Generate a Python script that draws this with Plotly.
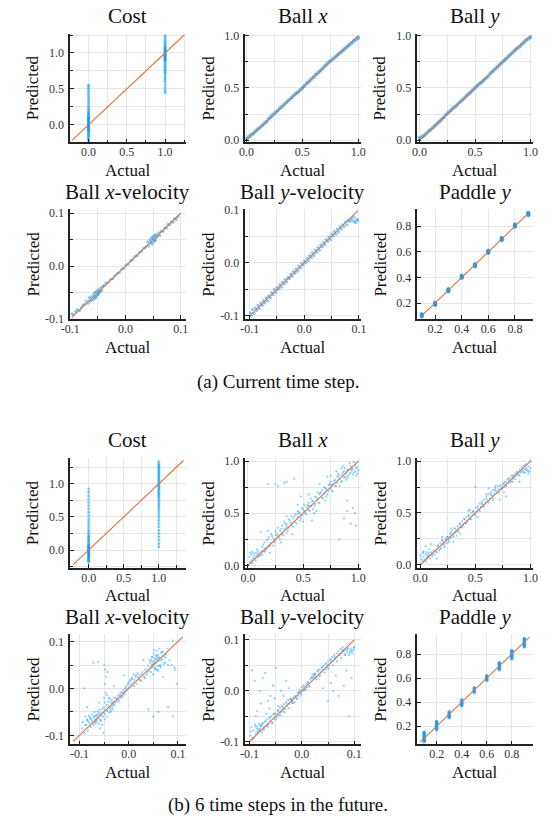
import plotly.graph_objects as go

# ---------------- DATA ----------------
cost_levels = [0.0, 1.0]

# (a) current time step
cost_a_pred_at0 = [-0.22,-0.2,-0.18,-0.16,-0.15,-0.13,-0.12,-0.1,-0.09,-0.08,-0.07,-0.06,-0.05,-0.04,-0.03,-0.02,-0.01,0.0,0.01,0.02,0.03,0.04,0.05,0.06,0.07,0.08,0.09,0.1,0.11,0.12,0.14,0.15,0.17,0.19,0.21,0.23,0.26,0.29,0.32,0.35,0.38,0.41,0.44,0.47,0.5,0.53,0.55]
cost_a_pred_at1 = [0.45,0.48,0.52,0.56,0.6,0.63,0.66,0.69,0.72,0.74,0.76,0.78,0.8,0.82,0.84,0.86,0.88,0.9,0.91,0.92,0.93,0.94,0.95,0.96,0.97,0.98,0.99,1.0,1.01,1.02,1.03,1.04,1.05,1.06,1.07,1.08,1.1,1.12,1.14,1.16,1.18,1.21,1.24]

bx_a_act = [0.00,0.02,0.04,0.06,0.08,0.10,0.12,0.14,0.16,0.18,
            0.20,0.22,0.24,0.26,0.28,0.30,0.32,0.34,0.36,0.38,
            0.40,0.42,0.44,0.46,0.48,0.50,0.52,0.54,0.56,0.58,
            0.60,0.62,0.64,0.66,0.68,0.70,0.72,0.74,0.76,0.78,
            0.80,0.82,0.84,0.86,0.88,0.90,0.92,0.94,0.96,0.98,1.00]
bx_a_pred = [0.015,0.03,0.05,0.065,0.085,0.105,0.12,0.14,0.16,0.18,
             0.205,0.225,0.245,0.265,0.285,0.305,0.325,0.345,0.365,0.385,
             0.405,0.425,0.445,0.46,0.48,0.50,0.52,0.545,0.565,0.585,
             0.605,0.625,0.645,0.665,0.685,0.71,0.73,0.75,0.765,0.785,
             0.80,0.82,0.84,0.855,0.875,0.895,0.91,0.93,0.95,0.965,0.98]
by_a_act = bx_a_act
by_a_pred = [0.02,0.03,0.045,0.065,0.085,0.1,0.12,0.14,0.16,0.18,
             0.2,0.22,0.245,0.265,0.285,0.305,0.32,0.34,0.36,0.38,
             0.4,0.42,0.44,0.46,0.48,0.5,0.52,0.54,0.555,0.575,
             0.595,0.615,0.64,0.66,0.68,0.70,0.72,0.74,0.76,0.78,
             0.80,0.82,0.84,0.86,0.88,0.895,0.915,0.935,0.955,0.97,0.985]

vx_a_act = [-0.097,-0.094,-0.090,-0.087,-0.083,-0.080,-0.077,-0.074,-0.071,-0.068,
            -0.066,-0.064,-0.062,-0.060,-0.058,-0.057,-0.056,-0.055,-0.054,-0.053,
            -0.052,-0.051,-0.050,-0.049,-0.048,-0.047,-0.046,-0.045,-0.043,-0.041,
            -0.038,-0.035,-0.031,-0.027,-0.023,-0.019,-0.015,-0.011,-0.007,-0.003,
            0.001,0.005,0.009,0.013,0.017,0.021,0.025,0.029,0.033,0.037,
            0.040,0.042,0.044,0.046,0.047,0.048,0.049,0.050,0.051,0.052,
            0.053,0.054,0.055,0.056,0.058,0.060,0.062,0.065,0.068,0.071,
            0.074,0.077,0.080,0.083,0.086,0.089,0.092,0.095]
vx_a_pred = [-0.090,-0.092,-0.086,-0.082,-0.084,-0.078,-0.074,-0.072,-0.066,-0.070,
             -0.060,-0.066,-0.058,-0.064,-0.054,-0.062,-0.050,-0.058,-0.060,-0.049,
             -0.056,-0.046,-0.054,-0.052,-0.044,-0.050,-0.048,-0.041,-0.046,-0.038,
             -0.036,-0.032,-0.030,-0.025,-0.024,-0.018,-0.014,-0.012,-0.006,-0.004,
             0.002,0.004,0.010,0.012,0.018,0.020,0.026,0.028,0.034,0.036,
             0.046,0.038,0.050,0.044,0.054,0.042,0.052,0.056,0.046,0.058,
             0.050,0.048,0.060,0.054,0.057,0.063,0.058,0.066,0.066,0.072,
             0.072,0.079,0.078,0.084,0.083,0.090,0.088,0.094]

vy_a_act = [-0.099,-0.097,-0.095,-0.092,-0.090,-0.087,-0.085,-0.082,-0.080,-0.077,
            -0.075,-0.072,-0.070,-0.067,-0.065,-0.062,-0.060,-0.057,-0.055,-0.052,
            -0.050,-0.047,-0.045,-0.042,-0.040,-0.037,-0.035,-0.032,-0.030,-0.027,
            -0.025,-0.022,-0.020,-0.017,-0.015,-0.012,-0.010,-0.007,-0.005,-0.002,
            0.000,0.003,0.005,0.008,0.010,0.013,0.015,0.018,0.020,0.023,
            0.025,0.028,0.030,0.033,0.035,0.038,0.040,0.043,0.045,0.048,
            0.050,0.053,0.055,0.058,0.060,0.063,0.065,0.068,0.070,0.073,
            0.075,0.078,0.080,0.083,0.085,0.088,0.090,0.092,0.094,0.096,0.098]
vy_a_pred = [-0.094,-0.100,-0.088,-0.095,-0.085,-0.090,-0.080,-0.086,-0.076,-0.080,
             -0.071,-0.076,-0.066,-0.072,-0.062,-0.066,-0.056,-0.060,-0.050,-0.056,
             -0.046,-0.050,-0.041,-0.046,-0.036,-0.040,-0.031,-0.036,-0.027,-0.030,
             -0.021,-0.026,-0.016,-0.020,-0.011,-0.016,-0.006,-0.010,-0.001,-0.004,
             0.004,0.000,0.009,0.004,0.014,0.010,0.019,0.014,0.024,0.020,
             0.029,0.024,0.034,0.030,0.039,0.034,0.044,0.040,0.049,0.044,
             0.054,0.050,0.059,0.054,0.064,0.058,0.068,0.064,0.072,0.068,
             0.077,0.072,0.080,0.078,0.083,0.080,0.086,0.078,0.076,0.082,0.080]

paddle_levels = [0.1, 0.2, 0.3, 0.4, 0.5, 0.6, 0.7, 0.8, 0.9]
paddle_a_pred = [[0.095,0.100,0.105,0.110,0.115],
                 [0.185,0.190,0.195,0.200,0.205],
                 [0.29,0.295,0.30,0.305,0.31],
                 [0.395,0.40,0.405,0.41,0.415],
                 [0.485,0.49,0.495,0.50,0.505],
                 [0.59,0.595,0.60,0.605,0.61],
                 [0.69,0.695,0.70,0.705,0.71],
                 [0.795,0.80,0.805,0.81,0.815],
                 [0.885,0.89,0.895,0.90,0.905]]

# (b) 6 time steps in the future
cost_b_pred_at0 = [-0.18,-0.16,-0.15,-0.14,-0.12,-0.11,-0.10,-0.09,-0.08,-0.07,-0.06,-0.05,-0.04,-0.03,-0.02,-0.01,0.0,0.01,0.02,0.03,0.04,0.05,0.06,0.07,0.08,0.10,0.12,0.14,0.16,0.18,0.2,0.22,0.25,0.28,0.31,0.35,0.39,0.43,0.47,0.52,0.57,0.62,0.67,0.72,0.77,0.82,0.87,0.92]
cost_b_pred_at1 = [0.05,0.1,0.15,0.2,0.25,0.3,0.35,0.4,0.45,0.5,0.54,0.58,0.62,0.65,0.68,0.71,0.74,0.77,0.8,0.82,0.84,0.86,0.88,0.9,0.92,0.94,0.96,0.98,1.0,1.02,1.04,1.06,1.08,1.1,1.12,1.14,1.16,1.18,1.2,1.22,1.24,1.26,1.28,1.3,1.33]

bx_b_act = [0.01,0.02,0.03,0.03,0.04,0.05,0.05,0.06,0.07,0.07,
            0.08,0.09,0.09,0.10,0.11,0.12,0.02,0.04,0.06,0.08,
            0.13,0.13,0.15,0.15,0.17,0.17,0.19,0.19,0.21,0.21,
            0.23,0.23,0.25,0.25,0.27,0.27,0.29,0.29,0.31,0.31,
            0.33,0.33,0.35,0.35,0.37,0.37,0.39,0.39,0.41,0.41,
            0.43,0.43,0.45,0.45,0.47,0.47,0.49,0.49,0.51,0.51,
            0.53,0.53,0.55,0.55,0.57,0.57,0.59,0.59,0.61,0.61,
            0.63,0.63,0.65,0.65,0.67,0.67,0.69,0.69,0.71,0.71,
            0.73,0.73,0.75,0.75,0.77,0.77,0.79,0.79,0.81,0.81,
            0.83,0.83,0.85,0.85,0.87,0.87,0.89,0.89,0.91,0.91,
            0.93,0.93,0.95,0.95,0.97,0.97,0.99,0.99,1.00,0.96,
            0.20,0.30,0.40,0.50,0.60,0.70,0.35,0.45,0.55,0.65,
            0.75,0.85,0.90,0.94,0.98,0.88,0.82,0.92,0.86,0.80,
            0.18,0.25,0.27,0.35,0.42,0.33,0.87,0.90,0.93,0.95,
            0.97,0.90,0.83,0.98,0.12,0.18,0.48,0.58,0.62,0.72,
            0.14,0.16,0.18,0.20,0.22,0.24,0.26,0.28,0.30,0.32,
            0.34,0.36,0.38,0.40,0.42,0.44,0.46,0.48,0.50,0.52,
            0.54,0.56,0.58,0.60,0.62,0.64,0.66,0.68,0.70,0.72,
            0.74,0.76,0.78,0.80,0.82,0.84,0.86,0.88,0.90,0.92,
            0.94,0.96,0.98,0.15,0.25,0.35,0.45,0.55,0.65,0.75]
bx_b_pred = [0.08,0.12,0.05,0.10,0.13,0.07,0.11,0.09,0.12,0.04,
             0.10,0.08,0.13,0.11,0.09,0.14,0.03,0.02,0.06,0.15,
             0.18,0.10,0.22,0.13,0.16,0.24,0.27,0.18,0.21,0.30,
             0.26,0.19,0.33,0.24,0.29,0.36,0.25,0.33,0.38,0.30,
             0.35,0.42,0.31,0.39,0.44,0.36,0.41,0.47,0.37,0.45,
             0.49,0.42,0.46,0.52,0.43,0.50,0.55,0.48,0.52,0.58,
             0.49,0.56,0.60,0.53,0.57,0.64,0.54,0.62,0.66,0.59,
             0.63,0.70,0.60,0.68,0.72,0.65,0.69,0.75,0.66,0.73,
             0.77,0.71,0.74,0.80,0.71,0.78,0.82,0.76,0.79,0.85,
             0.76,0.83,0.87,0.81,0.84,0.90,0.88,0.82,0.92,0.86,
             0.89,0.95,0.93,0.87,0.90,0.96,0.94,0.88,0.91,0.99,
             0.12,0.22,0.30,0.42,0.50,0.62,0.47,0.58,0.68,0.78,
             0.86,0.93,0.84,0.91,0.86,0.93,0.88,0.98,0.95,0.90,
             0.78,0.78,0.76,0.80,0.83,0.79,0.45,0.52,0.40,0.55,
             0.50,0.62,0.25,0.38,0.32,0.33,0.66,0.43,0.52,0.85,
             0.20,0.14,0.25,0.19,0.28,0.22,0.31,0.27,0.35,0.29,
             0.40,0.33,0.43,0.38,0.47,0.40,0.51,0.45,0.54,0.50,
             0.58,0.52,0.61,0.57,0.65,0.60,0.70,0.64,0.74,0.68,
             0.78,0.72,0.81,0.76,0.86,0.80,0.89,0.85,0.91,0.88,
             0.92,0.89,0.93,0.16,0.29,0.37,0.49,0.57,0.69,0.77]

by_b_act = [0.00,0.01,0.02,0.03,0.03,0.04,0.05,0.06,0.06,0.07,
            0.08,0.09,0.10,0.11,0.12,0.13,0.14,0.02,0.05,0.08,
            0.15,0.16,0.17,0.18,0.19,0.20,0.21,0.22,0.23,0.24,
            0.25,0.26,0.27,0.28,0.29,0.30,0.31,0.32,0.33,0.34,
            0.35,0.36,0.37,0.38,0.39,0.40,0.41,0.42,0.43,0.44,
            0.45,0.46,0.47,0.48,0.49,0.50,0.51,0.52,0.53,0.54,
            0.55,0.56,0.57,0.58,0.59,0.60,0.61,0.62,0.63,0.64,
            0.65,0.66,0.67,0.68,0.69,0.70,0.71,0.72,0.73,0.74,
            0.75,0.76,0.77,0.78,0.79,0.80,0.81,0.82,0.83,0.84,
            0.85,0.86,0.87,0.88,0.89,0.90,0.91,0.92,0.93,0.94,
            0.95,0.96,0.97,0.98,0.99,1.00,0.96,0.98,1.00,0.94,
            0.20,0.28,0.36,0.44,0.52,0.60,0.68,0.76,0.84,0.30,
            0.05,0.10,0.50,0.72,0.78,0.90,0.45,0.62,0.66,0.15,
            0.16,0.18,0.20,0.22,0.24,0.26,0.28,0.30,0.32,0.34,
            0.36,0.38,0.40,0.42,0.44,0.46,0.48,0.50,0.52,0.54,
            0.56,0.58,0.60,0.62,0.64,0.66,0.68,0.70,0.72,0.74,
            0.76,0.78,0.80,0.82,0.84,0.86,0.88,0.90,0.92,0.94,
            0.96,0.98,0.03,0.07,0.11]
by_b_pred = [0.09,0.06,0.11,0.08,0.13,0.05,0.10,0.07,0.12,0.09,
             0.11,0.06,0.12,0.08,0.14,0.10,0.13,0.04,0.03,0.15,
             0.12,0.18,0.14,0.21,0.16,0.23,0.19,0.17,0.25,0.21,
             0.27,0.22,0.30,0.26,0.33,0.29,0.35,0.31,0.28,0.37,
             0.33,0.39,0.36,0.42,0.38,0.44,0.40,0.46,0.42,0.48,
             0.44,0.50,0.47,0.52,0.49,0.55,0.51,0.57,0.53,0.59,
             0.56,0.61,0.58,0.63,0.60,0.66,0.62,0.68,0.64,0.70,
             0.67,0.72,0.69,0.74,0.71,0.76,0.73,0.70,0.77,0.74,
             0.78,0.75,0.80,0.77,0.82,0.79,0.84,0.81,0.86,0.83,
             0.85,0.88,0.86,0.90,0.87,0.92,0.89,0.94,0.90,0.92,
             0.89,0.93,0.91,0.95,0.90,0.93,0.97,0.88,1.00,0.96,
             0.27,0.35,0.30,0.52,0.46,0.68,0.76,0.70,0.80,0.22,
             0.18,0.20,0.75,0.63,0.66,0.80,0.53,0.74,0.62,0.06,
             0.19,0.15,0.24,0.20,0.27,0.24,0.31,0.27,0.35,0.32,
             0.40,0.36,0.44,0.40,0.47,0.44,0.51,0.48,0.55,0.52,
             0.59,0.56,0.64,0.60,0.68,0.64,0.72,0.69,0.76,0.73,
             0.79,0.76,0.83,0.80,0.86,0.83,0.89,0.86,0.91,0.89,
             0.92,0.91,0.12,0.08,0.10]

vx_b_act = [-0.095,-0.093,-0.090,-0.088,-0.086,-0.085,-0.083,-0.081,-0.080,-0.078,
            -0.077,-0.075,-0.074,-0.072,-0.071,-0.070,-0.068,-0.067,-0.066,-0.065,
            -0.063,-0.062,-0.061,-0.060,-0.059,-0.058,-0.057,-0.056,-0.055,-0.054,
            -0.052,-0.051,-0.050,-0.050,-0.049,-0.048,-0.048,-0.047,-0.046,-0.045,
            -0.044,-0.043,-0.042,-0.041,-0.040,-0.039,-0.038,-0.037,-0.036,-0.035,
            -0.034,-0.033,-0.032,-0.031,-0.030,-0.028,-0.026,-0.024,-0.022,-0.020,
            -0.018,-0.016,-0.014,-0.012,-0.010,-0.008,-0.006,-0.004,-0.002,0.000,
            0.002,0.004,0.006,0.008,0.010,0.012,0.014,0.016,0.018,0.020,
            0.022,0.025,0.028,0.031,0.034,0.037,0.040,0.042,0.044,0.045,
            0.046,0.047,0.048,0.049,0.050,0.051,0.052,0.053,0.054,0.055,
            0.056,0.057,0.058,0.059,0.060,0.061,0.062,0.063,0.064,0.066,
            0.068,0.070,0.072,0.074,0.076,0.045,0.050,0.055,0.060,0.065,
            -0.090,-0.072,-0.062,-0.050,-0.048,0.040,0.050,0.060,0.080,0.090,
            0.090,0.098,0.080,0.095,-0.010,-0.030,-0.060,-0.085,0.030,0.070,
            -0.070,-0.068,-0.064,-0.076,-0.082,-0.058,-0.052,-0.044,0.052,0.058,
            -0.088,-0.084,-0.079,-0.073,-0.069,-0.064,-0.060,-0.057,-0.053,-0.049,
            -0.046,-0.043,-0.040,-0.037,-0.033,-0.029,-0.025,-0.021,-0.017,-0.013,
            -0.009,-0.005,-0.001,0.003,0.007,0.011,0.015,0.019,0.023,0.027,
            0.033,0.038,0.043,0.047,0.049,0.051,0.053,0.055,0.057,0.059,
            0.061,0.063,0.065,0.067,0.071,0.075,0.079,0.083,0.087,0.093]
vx_b_pred = [-0.085,-0.072,-0.095,-0.060,-0.078,-0.068,-0.090,-0.058,-0.074,-0.064,
             -0.082,-0.056,-0.070,-0.062,-0.078,-0.050,-0.066,-0.074,-0.058,-0.069,
             -0.048,-0.062,-0.075,-0.055,-0.066,-0.045,-0.070,-0.059,-0.052,-0.078,
             -0.060,-0.040,-0.050,-0.020,-0.030,-0.055,0.010,-0.045,0.025,-0.035,
             -0.015,-0.048,-0.028,-0.038,-0.052,-0.022,-0.042,-0.030,-0.046,-0.025,
             -0.040,-0.032,-0.045,-0.036,-0.028,-0.020,-0.030,-0.022,-0.016,-0.025,
             -0.014,-0.020,-0.008,-0.015,-0.006,-0.012,0.004,-0.004,0.008,0.002,
             0.015,0.008,0.022,0.012,0.030,0.018,0.025,0.010,0.032,0.020,
             0.028,0.016,0.035,0.025,0.040,0.030,0.048,0.038,0.055,0.043,
             0.060,0.050,0.068,0.045,0.058,0.075,0.052,0.064,0.040,0.070,
             0.055,0.080,0.062,0.048,0.072,0.058,0.085,0.066,0.050,0.076,
             0.062,0.078,0.068,0.055,0.072,0.035,0.030,0.042,0.038,0.045,
             0.000,0.055,0.057,0.050,0.040,-0.045,-0.060,-0.050,-0.040,-0.060,
             0.102,0.010,0.050,0.040,0.028,0.005,-0.030,-0.040,0.060,0.025,
             -0.060,-0.072,-0.056,-0.066,-0.070,-0.085,-0.095,-0.060,0.056,0.066,
             -0.078,-0.066,-0.061,-0.075,-0.058,-0.064,-0.052,-0.068,-0.044,-0.066,
             -0.010,0.035,-0.020,-0.050,-0.030,-0.035,-0.022,-0.028,-0.010,-0.018,
             -0.002,0.000,0.012,0.018,0.020,0.005,0.028,0.024,0.018,0.030,
             0.022,0.035,0.060,0.066,0.052,0.082,0.045,0.062,0.070,0.040,
             0.066,0.048,0.060,0.078,0.052,0.066,0.085,0.060,0.050,0.045]

vy_b_act = [-0.098,-0.096,-0.094,-0.092,-0.090,-0.088,-0.086,-0.084,-0.082,-0.080,
            -0.078,-0.076,-0.074,-0.072,-0.070,-0.068,-0.066,-0.064,-0.062,-0.060,
            -0.058,-0.056,-0.054,-0.052,-0.050,-0.048,-0.046,-0.044,-0.042,-0.040,
            -0.038,-0.036,-0.034,-0.032,-0.030,-0.028,-0.026,-0.024,-0.022,-0.020,
            -0.018,-0.016,-0.014,-0.012,-0.010,-0.008,-0.006,-0.004,-0.002,0.000,
            0.002,0.004,0.006,0.008,0.010,0.012,0.014,0.016,0.018,0.020,
            0.022,0.024,0.026,0.028,0.030,0.032,0.034,0.036,0.038,0.040,
            0.042,0.044,0.046,0.048,0.050,0.052,0.054,0.056,0.058,0.060,
            0.062,0.064,0.066,0.068,0.070,0.072,0.074,0.076,0.078,0.080,
            0.082,0.084,0.086,0.088,0.090,0.092,0.094,0.096,0.098,0.100,
            -0.095,-0.090,-0.080,-0.075,-0.070,-0.065,-0.060,-0.055,-0.050,-0.045,
            -0.040,-0.035,-0.030,-0.025,-0.085,-0.078,-0.068,-0.052,-0.062,-0.088,
            0.040,0.050,0.060,0.070,0.080,0.090,0.095,0.085,0.065,0.055,
            -0.085,-0.082,-0.079,-0.076,-0.073,-0.020,-0.018,0.022,0.025,0.078,
            -0.097,-0.093,-0.089,-0.085,-0.081,-0.077,-0.073,-0.069,-0.065,-0.061,
            -0.057,-0.053,-0.049,-0.045,-0.041,-0.037,-0.033,-0.029,-0.025,-0.021,
            -0.017,-0.013,-0.009,-0.005,-0.001,0.003,0.007,0.011,0.015,0.019,
            0.023,0.027,0.031,0.035,0.039,0.043,0.047,0.051,0.055,0.059,
            0.063,0.067,0.071,0.075,0.079,0.083,0.087,0.091,0.095,0.099]
vy_b_pred = [-0.088,-0.072,-0.095,-0.078,-0.066,-0.085,-0.074,-0.080,-0.065,-0.076,
             -0.070,-0.082,-0.064,-0.074,-0.060,-0.070,-0.056,-0.066,-0.052,-0.060,
             -0.050,-0.062,-0.046,-0.056,-0.044,-0.052,-0.038,-0.048,-0.034,-0.042,
             -0.030,-0.040,-0.026,-0.036,-0.022,-0.030,-0.018,-0.026,-0.016,-0.022,
             -0.020,-0.014,-0.022,-0.010,-0.015,-0.004,-0.010,0.002,-0.004,0.006,
             0.000,0.008,0.002,0.012,0.006,0.016,0.010,0.022,0.026,0.032,
             0.024,0.030,0.034,0.026,0.038,0.030,0.042,0.036,0.046,0.040,
             0.050,0.042,0.054,0.046,0.058,0.050,0.062,0.055,0.066,0.058,
             0.070,0.062,0.074,0.066,0.078,0.070,0.082,0.074,0.086,0.078,
             0.072,0.080,0.076,0.084,0.070,0.078,0.082,0.074,0.080,0.086,
             0.040,0.020,0.000,0.025,0.035,-0.020,-0.010,0.010,0.045,-0.030,
             0.000,-0.010,0.020,0.005,-0.040,-0.025,-0.045,-0.015,-0.035,-0.050,
             0.005,-0.020,0.000,-0.010,0.010,-0.050,0.025,0.040,0.030,0.015,
             -0.070,-0.078,-0.068,-0.064,-0.072,-0.018,-0.024,0.028,0.032,0.080,
             -0.080,-0.092,-0.070,-0.082,-0.075,-0.068,-0.078,-0.060,-0.070,-0.054,
             -0.064,-0.046,-0.056,-0.040,-0.048,-0.032,-0.042,-0.024,-0.034,-0.016,
             -0.024,-0.012,-0.016,-0.002,-0.008,0.010,0.002,0.016,0.008,0.026,
             0.034,0.022,0.040,0.030,0.046,0.036,0.052,0.044,0.060,0.050,
             0.066,0.058,0.072,0.064,0.078,0.070,0.082,0.074,0.078,0.084]

paddle_b_pred = [[0.07,0.08,0.09,0.10,0.11,0.12,0.13,0.14,0.15],
                 [0.17,0.18,0.19,0.20,0.21,0.22,0.23,0.24],
                 [0.27,0.28,0.29,0.30,0.31,0.32],
                 [0.37,0.38,0.39,0.40,0.41,0.42],
                 [0.48,0.49,0.50,0.51,0.52],
                 [0.58,0.59,0.60,0.61,0.62],
                 [0.67,0.68,0.69,0.70,0.71,0.72,0.73],
                 [0.76,0.77,0.78,0.79,0.80,0.81,0.82,0.83],
                 [0.86,0.87,0.88,0.89,0.90,0.91,0.92,0.93]]

# y = x reference line extents (data units)
ref_cost_a = [-0.22, 1.25]
ref_unit = [0.0, 1.0]
ref_vx_a = [-0.097, 0.1]
ref_vy_a = [-0.1, 0.098]
ref_paddle_a = [0.09, 0.9]
ref_cost_b = [-0.22, 1.35]
ref_vx_b = [-0.113, 0.11]
ref_vy_b = [-0.1, 0.1]
ref_paddle_b = [0.07, 0.94]

titles = ["Cost", "Ball <i>x</i>", "Ball <i>y</i>",
          "Ball <i>x</i>-velocity", "Ball <i>y</i>-velocity", "Paddle <i>y</i>"]
captions = ["(a) Current time step.", "(b) 6 time steps in the future."]

# ---------------- LAYOUT HELPERS ----------------
W, H = 552, 830
BLUE = "#009AFA"
RED = "#E26F46"
FONT = "Liberation Serif"

col_px = [(62, 181), (242.3, 361), (419.5, 538.3)]
row_px = [(28, 138.5), (206.5, 318), (459.3, 570.7), (638.3, 750)]
title_y = [10, 189, 441, 621]
actual_y = [167, 347, 599, 779]
pred_x = [24, 204.5, 381.5]

def px_x(p): return p / W
def px_y(p): return 1 - p / H

unit_ticks = dict(vals=[0.0, 0.5, 1.0], text=["0.0", "0.5", "1.0"], minor=0.25)
vel_ticks = dict(vals=[-0.1, 0.0, 0.1], text=["-0.1", "0.0", "0.1"], minor=0.05)
pad_ticks = dict(vals=[0.2, 0.4, 0.6, 0.8], text=["0.2", "0.4", "0.6", "0.8"], minor=None)

panels = [
    (0, 0, [-0.24, 1.27], [-0.243, 1.27], unit_ticks, unit_ticks),
    (0, 1, [-0.01, 1.02], [-0.02, 1.02], unit_ticks, unit_ticks),
    (0, 2, [-0.02, 1.02], [-0.02, 1.02], unit_ticks, unit_ticks),
    (1, 0, [-0.1, 0.109], [-0.1, 0.1075], vel_ticks, vel_ticks),
    (1, 1, [-0.108, 0.103], [-0.106, 0.101], vel_ticks, vel_ticks),
    (1, 2, [0.067, 0.933], [0.076, 0.932], pad_ticks, pad_ticks),
    (2, 0, [-0.263, 1.383], [-0.267, 1.386], unit_ticks, unit_ticks),
    (2, 1, [-0.024, 1.02], [-0.023, 1.028], unit_ticks, unit_ticks),
    (2, 2, [-0.026, 1.02], [-0.029, 1.03], unit_ticks, unit_ticks),
    (3, 0, [-0.119, 0.116], [-0.119, 0.1155], vel_ticks, vel_ticks),
    (3, 1, [-0.108, 0.112], [-0.105, 0.111], vel_ticks, vel_ticks),
    (3, 2, [0.0456, 0.967], [0.05, 0.964], pad_ticks, pad_ticks),
]

fig = go.Figure()
layout = dict(width=W, height=H, margin=dict(l=0, r=0, t=0, b=0),
              paper_bgcolor="white", plot_bgcolor="white", showlegend=False,
              font=dict(family=FONT, color="#222"))
annotations = []

def axis_cfg(rng, ticks, domain, anchor, standoff):
    cfg = dict(domain=domain, range=rng, anchor=anchor,
               tickmode="array", tickvals=ticks["vals"], ticktext=ticks["text"],
               showgrid=True, gridcolor="#e6e6e6", gridwidth=1,
               zeroline=False, showline=True, linecolor="#222", linewidth=1.5,
               ticks="inside", ticklen=4, tickcolor="#222", tickwidth=1,
               ticklabelstandoff=standoff,
               tickfont=dict(family=FONT, size=12, color="#333"))
    if ticks["minor"]:
        cfg["minor"] = dict(dtick=ticks["minor"], tick0=0, showgrid=True,
                            gridcolor="#e6e6e6", gridwidth=1,
                            ticks="inside", ticklen=3, tickcolor="#222")
    return cfg

for i, (r, c, xr, yr, xt, yt) in enumerate(panels):
    n = i + 1
    xd = [px_x(col_px[c][0]), px_x(col_px[c][1])]
    yd = [px_y(row_px[r][1]), px_y(row_px[r][0])]
    xname = "xaxis" if n == 1 else f"xaxis{n}"
    yname = "yaxis" if n == 1 else f"yaxis{n}"
    layout[xname] = axis_cfg(xr, xt, xd, "y" if n == 1 else f"y{n}", -2)
    layout[yname] = axis_cfg(yr, yt, yd, "x" if n == 1 else f"x{n}", 2)
    cx = (col_px[c][0] + col_px[c][1]) / 2
    annotations.append(dict(text=titles[(r % 2) * 3 + c], x=px_x(cx), y=px_y(title_y[r]),
                            xref="paper", yref="paper", showarrow=False,
                            xanchor="center", yanchor="middle",
                            font=dict(family=FONT, size=21, color="#111")))
    annotations.append(dict(text="Actual", x=px_x(cx), y=px_y(actual_y[r]),
                            xref="paper", yref="paper", showarrow=False,
                            xanchor="center", yanchor="middle",
                            font=dict(family=FONT, size=17, color="#111")))
    cy = (row_px[r][0] + row_px[r][1]) / 2
    annotations.append(dict(text="Predicted", x=px_x(pred_x[c]), y=px_y(cy),
                            xref="paper", yref="paper", showarrow=False, textangle=-90,
                            xanchor="center", yanchor="middle",
                            font=dict(family=FONT, size=17, color="#111")))

annotations.append(dict(text=captions[0], x=0.5, y=px_y(382), xref="paper", yref="paper",
                        showarrow=False, xanchor="center", yanchor="middle",
                        font=dict(family=FONT, size=19, color="#111")))
annotations.append(dict(text=captions[1], x=0.5, y=px_y(812), xref="paper", yref="paper",
                        showarrow=False, xanchor="center", yanchor="middle",
                        font=dict(family=FONT, size=19, color="#111")))
layout["annotations"] = annotations

def axes(n):
    return ("x" if n == 1 else f"x{n}", "y" if n == 1 else f"y{n}")

def scatter(n, xs, ys, size, opacity):
    xa, ya = axes(n)
    fig.add_trace(go.Scatter(x=xs, y=ys, mode="markers", xaxis=xa, yaxis=ya,
                             marker=dict(color=BLUE, size=size, opacity=opacity,
                                         line=dict(width=0)),
                             hoverinfo="skip"))

def refline(n, ext):
    xa, ya = axes(n)
    fig.add_trace(go.Scatter(x=ext, y=ext, mode="lines", xaxis=xa, yaxis=ya,
                             line=dict(color=RED, width=1.1), hoverinfo="skip"))

def strip(levels, preds):
    xs, ys = [], []
    for lv, pl in zip(levels, preds):
        for p in pl:
            xs.append(lv)
            ys.append(p)
    return xs, ys

# (a)
cx, cy = strip(cost_levels, [cost_a_pred_at0, cost_a_pred_at1])
scatter(1, cx, cy, 3, 0.55); refline(1, ref_cost_a)
scatter(2, bx_a_act, bx_a_pred, 4, 0.6); refline(2, ref_unit)
scatter(3, by_a_act, by_a_pred, 4, 0.6); refline(3, ref_unit)
scatter(4, vx_a_act, vx_a_pred, 3, 0.5); refline(4, ref_vx_a)
scatter(5, vy_a_act, vy_a_pred, 3, 0.5); refline(5, ref_vy_a)
px_, py_ = strip(paddle_levels, paddle_a_pred)
scatter(6, px_, py_, 4, 0.7); refline(6, ref_paddle_a)

# (b)
cx, cy = strip(cost_levels, [cost_b_pred_at0, cost_b_pred_at1])
scatter(7, cx, cy, 3, 0.5); refline(7, ref_cost_b)
scatter(8, bx_b_act, bx_b_pred, 2.2, 0.45); refline(8, ref_unit)
scatter(9, by_b_act, by_b_pred, 2.2, 0.45); refline(9, ref_unit)
scatter(10, vx_b_act, vx_b_pred, 2.2, 0.45); refline(10, ref_vx_b)
scatter(11, vy_b_act, vy_b_pred, 2.2, 0.45); refline(11, ref_vy_b)
px_, py_ = strip(paddle_levels, paddle_b_pred)
scatter(12, px_, py_, 3.5, 0.7); refline(12, ref_paddle_b)

fig.update_layout(**layout)
fig.write_html("out.html", config={"displayModeBar": False},
               post_script="document.body.style.margin='0px';document.body.style.overflow='hidden';")
